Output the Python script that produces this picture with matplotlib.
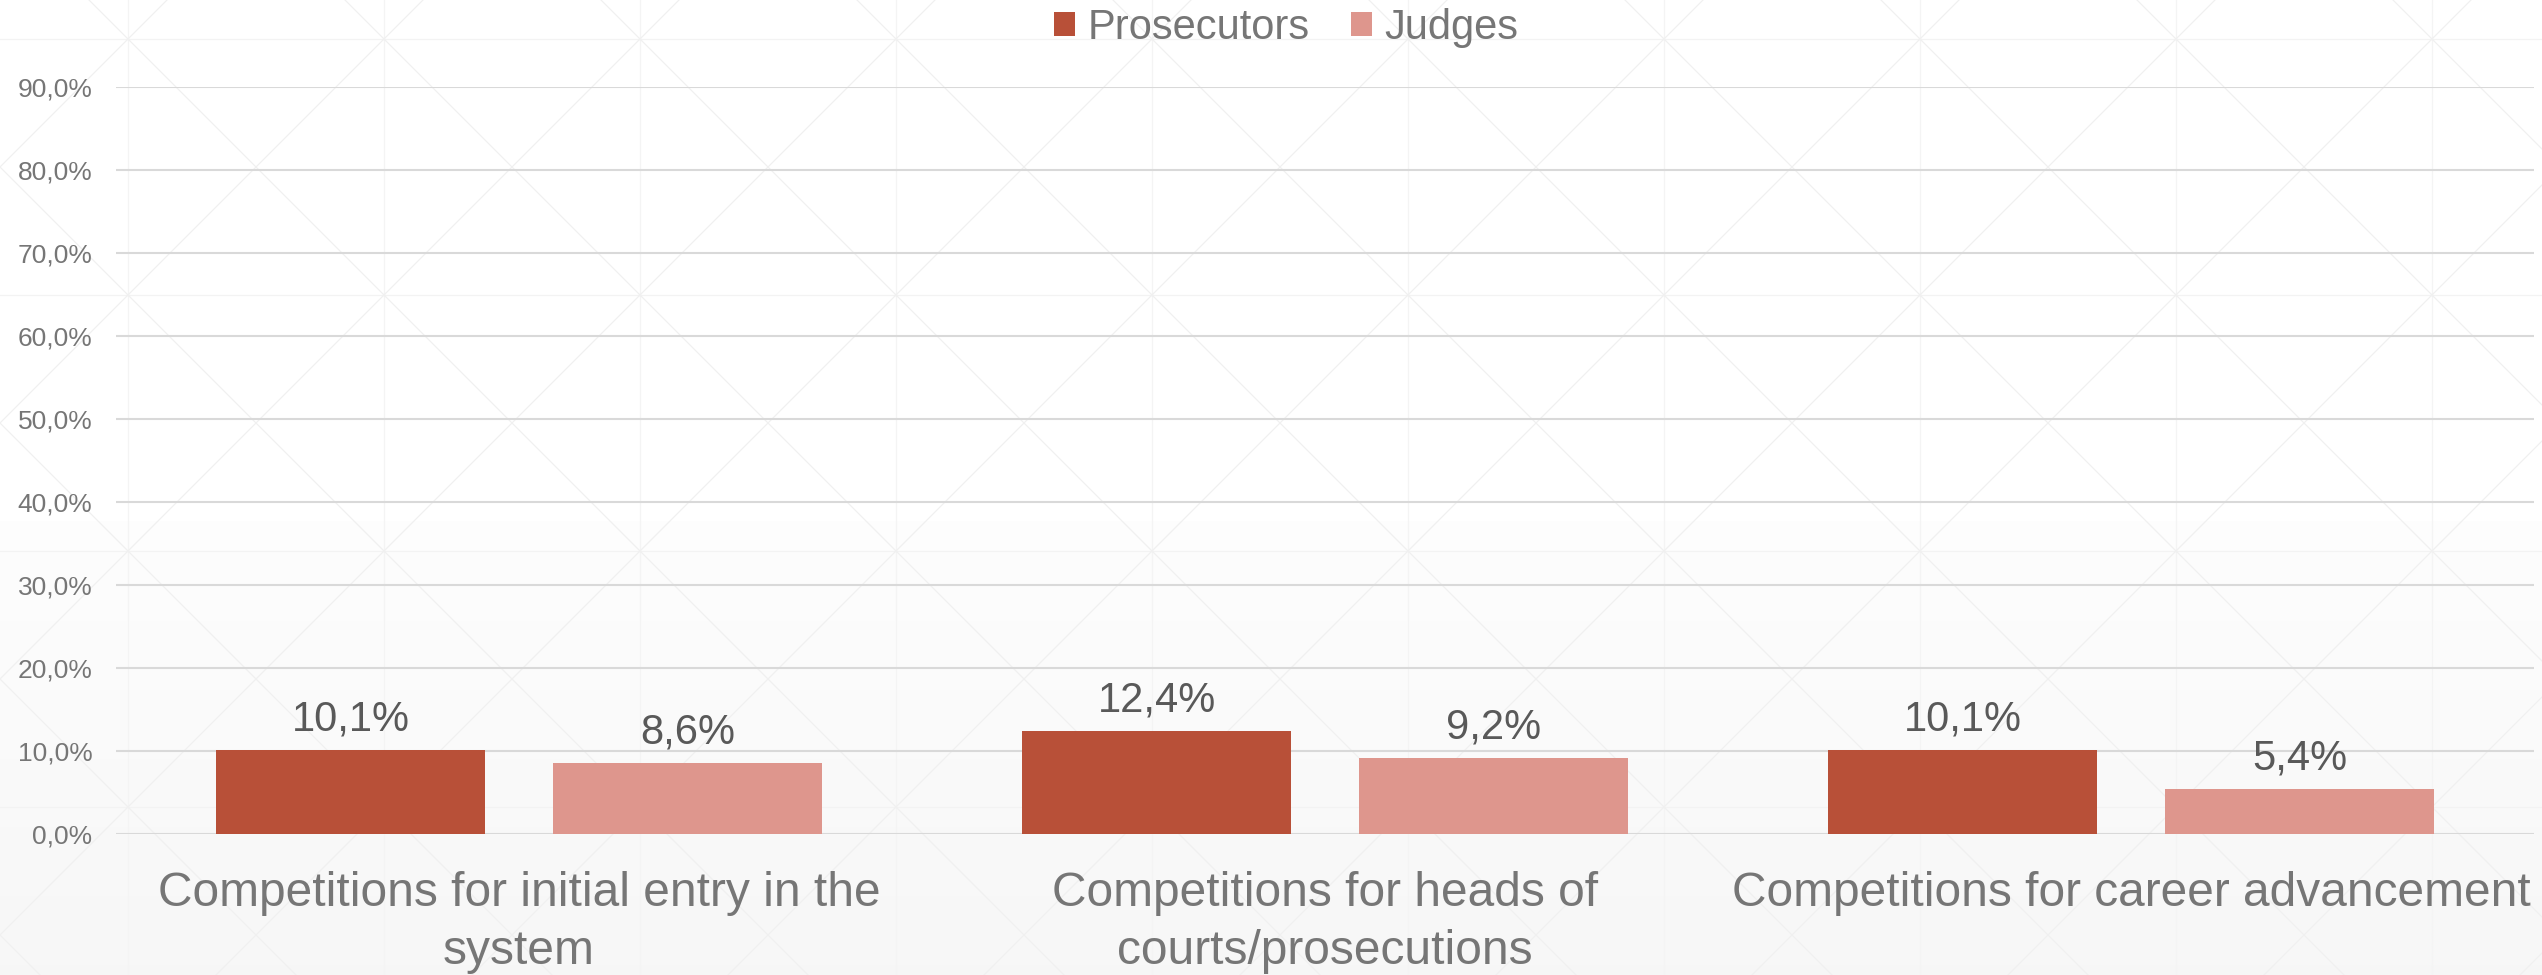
import matplotlib.pyplot as plt
import numpy as np
from matplotlib.ticker import FuncFormatter

plt.rcParams['font.family'] = ['Liberation Sans', 'DejaVu Sans']

# survey shares by competition type
categories = ['Competitions for initial entry in the\nsystem',
              'Competitions for heads of\ncourts/prosecutions',
              'Competitions for career advancement']
prosecutors = [0.101, 0.124, 0.101]
judges = [0.086, 0.092, 0.054]
series_names = ['Prosecutors', 'Judges']
yticks = np.arange(0, 1.0, 0.1)

col_pros = '#B85038'
col_judg = '#DE968D'
txt_grey = '#767676'
lbl_grey = '#595959'

W, H = 2542, 975
fig = plt.figure(figsize=(W / 100, H / 100), dpi=100)

# background: soft vertical fade plus faint triangle lattice
bg = fig.add_axes([0, 0, 1, 1], zorder=-10)
bg.set_xlim(0, W)
bg.set_ylim(H, 0)
bg.axis('off')
t = np.clip((np.arange(H) - 520) / (H - 520), 0, 1)
shade = 1.0 - 0.006 * (t > 0) - 0.026 * t
grad = shade[:, None, None] * np.ones((1, 1, 3))
bg.imshow(grad, extent=[0, W, H, 0], aspect='auto')
lat = '#F0F0F0'
step = 256
x0, y0 = 128, 39
for k in range(-1, 11):
    bg.axvline(x0 + step * k, color='#F4F4F4', lw=0.9)
for m in range(0, 4):
    bg.axhline(y0 + step * m, color='#F3F3F3', lw=0.9)
xs = np.array([0, W])
for n in range(-12, 14):
    bg.plot(xs, xs - x0 + y0 + step * n, color=lat, lw=0.9)
    bg.plot(xs, -xs + x0 + y0 + step * n, color=lat, lw=0.9)

ax = fig.add_axes([116 / W, 1 - 834 / H, (2534 - 116) / W, (834 - 87) / H])
ax.patch.set_alpha(0)

x = np.arange(len(categories))
bw = 0.334
off = 0.209
b1 = ax.bar(x - off, prosecutors, bw, color=col_pros, label=series_names[0], zorder=3)
b2 = ax.bar(x + off, judges, bw, color=col_judg, label=series_names[1], zorder=3)

for bars, vals in [(b1, prosecutors), (b2, judges)]:
    for r, v in zip(bars, vals):
        ax.annotate(f'{v * 100:.1f}%'.replace('.', ','),
                    (r.get_x() + r.get_width() / 2, v),
                    xytext=(0, 14), textcoords='offset points',
                    ha='center', va='baseline', fontsize=30, color=lbl_grey)

ax.set_xlim(-0.5, 2.5)
ax.set_ylim(0, 0.9)
ax.set_yticks(yticks)
ax.yaxis.set_major_formatter(FuncFormatter(lambda v, p: f'{v * 100:.1f}%'.replace('.', ',')))
ax.grid(axis='y', color='#D9D9D9', lw=1.5, zorder=0)
ax.set_xticks(x)
ax.set_xticklabels(categories, fontsize=34.5, color=txt_grey, linespacing=1.35)
ax.tick_params(axis='x', length=0, pad=27)
ax.tick_params(axis='y', length=0, pad=17, labelsize=19, labelcolor=txt_grey)
for s in ax.spines.values():
    s.set_visible(False)

fig.legend(handles=[b1, b2], loc='center', bbox_to_anchor=(0.506, 1 - 28 / H),
           ncol=2, frameon=False, fontsize=30, labelcolor=txt_grey,
           handlelength=0.5, handleheight=0.5, handletextpad=0.3,
           columnspacing=1.0, borderpad=0)

fig.savefig('out.png', dpi=100)
